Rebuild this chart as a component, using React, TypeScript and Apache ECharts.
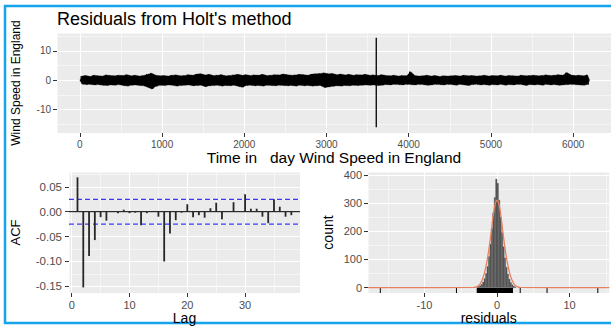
import React, { useEffect, useRef } from "react";
import * as echarts from "echarts";

// ---------- Top panel: residual series (binned envelope, 50-day bins) ----------
const binDays = 50;
const residHi = [
  1.4, 1.6, 1.3, 1.7, 1.5, 1.4, 1.8, 1.6, 1.5, 1.7,
  1.6, 1.9, 1.5, 1.7, 1.4, 1.6, 2.0, 2.4, 1.7, 1.5,
  1.6, 1.4, 1.7, 1.8, 1.5, 1.6, 1.9, 1.7, 2.1, 2.2,
  1.8, 2.0, 1.6, 1.7, 1.9, 1.5, 1.6, 1.8, 2.0, 1.7,
  1.9, 1.6, 1.8, 1.7, 2.0, 1.6, 1.7, 1.9, 1.8, 2.1,
  1.9, 1.7, 1.8, 2.0, 1.9, 1.7, 2.1, 2.2, 2.3, 2.5,
  2.2, 2.3, 1.9, 2.1, 1.8, 2.0, 1.7, 1.9, 1.8, 2.0,
  1.7, 1.8, 1.6, 1.9, 1.6, 1.5, 1.7, 1.4, 1.6, 1.5,
  2.9, 1.6, 1.4, 1.5, 1.7, 1.4, 1.6, 1.3, 1.5, 1.4,
  1.5, 1.6, 1.4, 1.7, 1.5, 1.6, 1.4, 1.5, 1.7, 1.4,
  1.6, 1.5, 1.7, 1.4, 1.6, 1.5, 1.4, 1.7, 1.5, 1.6,
  1.7, 1.5, 1.6, 1.8, 1.6, 1.7, 1.9, 1.7, 2.6, 1.8,
  1.6, 1.7, 1.5, 1.8,
];
const residLo = [
  -1.3, -1.5, -1.4, -1.6, -1.5, -1.7, -1.8, -1.6, -1.7, -1.5,
  -1.8, -2.0, -1.7, -1.6, -1.8, -1.9, -2.4, -3.0, -2.1, -1.7,
  -1.8, -1.6, -1.7, -2.0, -1.8, -1.7, -1.6, -1.9, -1.8, -1.7,
  -2.2, -1.9, -1.8, -1.7, -2.0, -1.8, -1.9, -1.7, -2.1, -2.4,
  -1.8, -1.7, -1.9, -1.8, -2.0, -1.7, -1.8, -1.9, -1.7, -1.8,
  -1.9, -1.8, -2.0, -1.7, -1.9, -1.8, -2.0, -1.9, -1.8, -2.5,
  -2.3, -2.1, -1.9, -2.0, -1.8, -1.9, -1.7, -1.8, -1.7, -1.6,
  -1.7, -1.6, -1.8, -1.7, -1.5, -1.6, -1.4, -1.5, -1.6, -1.4,
  -1.5, -1.6, -1.4, -1.5, -1.7, -1.6, -1.4, -1.5, -1.6, -1.4,
  -1.5, -1.7, -1.4, -1.6, -1.8, -1.5, -1.4, -1.6, -1.5, -1.7,
  -1.5, -1.6, -1.4, -1.7, -1.5, -1.6, -1.4, -1.5, -1.8, -1.5,
  -1.6, -1.5, -1.7, -1.4, -1.6, -1.5, -1.7, -1.6, -1.5, -1.4,
  -1.5, -1.6, -1.7, -1.5,
];
const spikeDay = 3605;
const spikeHi = 14.5;
const spikeLo = -16;
const topXTicks = [0, 1000, 2000, 3000, 4000, 5000, 6000];
const topYTicks = [-10, 0, 10];

// ---------- ACF panel ----------
const acfValues = [
  0.069, -0.152, -0.089, -0.057, -0.011, -0.018, 0.001, -0.003, 0.004, -0.003,
  -0.002, -0.027, -0.003, 0.0, -0.010, -0.100, -0.044, -0.017, -0.002, 0.015,
  -0.011, -0.007, -0.012, 0.007, 0.018, -0.015, 0.0, 0.019, 0.0, 0.035,
  0.006, 0.006, -0.010, -0.023, 0.025, 0.010, -0.010, -0.007,
];
const acfBound = 0.0249;
const acfXTicks = [0, 10, 20, 30];
const acfYTicks = [-0.15, -0.1, -0.05, 0, 0.05];

// ---------- Histogram panel ----------
const histBinWidth = 0.2;
const histCenters = [
  -2.7, -2.5, -2.3, -2.1, -1.9, -1.7, -1.5, -1.3, -1.1, -0.9, -0.7, -0.5, -0.3, -0.1,
  0.1, 0.3, 0.5, 0.7, 0.9, 1.1, 1.3, 1.5, 1.7, 1.9, 2.1, 2.3, 2.5,
];
const histCounts = [
  2, 4, 7, 12, 20, 32, 50, 75, 110, 155, 210, 265, 320, 385,
  370, 310, 250, 195, 145, 105, 72, 48, 30, 18, 10, 5, 2,
];
const normX = [-17.8, -3.2, -2.8, -2.4, -2.0, -1.7, -1.4, -1.1, -0.8, -0.5, -0.25, 0, 0.25, 0.5, 0.8, 1.1, 1.4, 1.7, 2.0, 2.4, 2.8, 3.2, 15.5];
const normY = [0, 1, 3, 11, 31, 56, 92, 140, 199, 262, 297, 310, 297, 262, 199, 140, 92, 56, 31, 11, 3, 1, 0];
const rugPoints = [-16.1, -5.6, 3.2, 6.9, 13.9];
const rugDense = [-2.8, 2.2];
const histXTicks = [-10, 0, 10];
const histYTicks = [0, 100, 200, 300, 400];

const FONT = "'Liberation Sans', Arial, sans-serif";
const PANEL = "#EBEBEB";
const TICKCOL = "#333333";
const LABCOL = "#4D4D4D";

function majorAxis(extra: any) {
  return {
    type: "value",
    axisLine: { show: false, onZero: false },
    axisTick: { show: true, inside: false, length: 4, lineStyle: { color: TICKCOL, width: 1 }, customValues: extra.ticks },
    axisLabel: {
      show: true,
      customValues: extra.ticks,
      color: LABCOL,
      fontFamily: FONT,
      fontSize: extra.fontSize || 10,
      margin: extra.margin || 6,
      formatter: extra.formatter || ((v: number) => String(v)),
    },
    splitLine: { show: true, lineStyle: { color: "#FFFFFF", width: 1.1 } },
    minorTick: { show: false },
    ...extra.axis,
  };
}

function minorAxis(extra: any) {
  return {
    type: "value",
    show: true,
    axisLine: { show: false, onZero: false },
    axisTick: { show: false },
    axisLabel: { show: false },
    splitLine: { show: true, lineStyle: { color: "#FFFFFF", width: 0.5 } },
    ...extra,
  };
}

// horizontal reference line across the whole panel of a grid
function hlineSeries(name: string, axisIdx: number, values: number[], style: any) {
  return {
    type: "custom",
    name,
    xAxisIndex: axisIdx,
    yAxisIndex: axisIdx,
    data: values.map((v) => [0, v]),
    encode: { y: 1 },
    renderItem: (params: any, api: any) => {
      const cs = params.coordSys;
      const y = api.coord([0, api.value(1)])[1];
      return {
        type: "line",
        shape: { x1: cs.x, y1: y, x2: cs.x + cs.width, y2: y },
        style,
      };
    },
  };
}

export default function App() {
  const ref = useRef<HTMLDivElement>(null);
  useEffect(() => {
    document.body.style.margin = "0";
    if (!ref.current) return;
    const chart = echarts.init(ref.current, undefined, { renderer: "svg" });

    // zig-zag through the envelope of each 50-day bin (max early in bin, min late in bin)
    const zigzag: number[][] = [];
    residHi.forEach((h, i) => {
      zigzag.push([i * binDays + 12, h]);
      zigzag.push([i * binDays + 37, residLo[i]]);
    });
    const acfData = acfValues.map((v, i) => [i + 1, v]);
    const histData = histCenters.map((c, i) => [c, histCounts[i]]);
    const normData = normX.map((x, i) => [x, normY[i]]);

    const option: any = {
      animation: false,
      backgroundColor: "#FFFFFF",
      title: {
        text: "Residuals from Holt's method",
        left: 57,
        top: 10,
        padding: 0,
        textStyle: { fontFamily: FONT, fontSize: 18, fontWeight: "normal", color: "#000" },
      },
      graphic: [
        { type: "line", shape: { x1: 5, y1: 5, x2: 5, y2: 324 }, style: { stroke: "#14A4EC", lineWidth: 2.5 } },
        { type: "line", shape: { x1: 4, y1: 6, x2: 611, y2: 6 }, style: { stroke: "#14A4EC", lineWidth: 2.5 } },
        { type: "line", shape: { x1: 4, y1: 323, x2: 611, y2: 323 }, style: { stroke: "#14A4EC", lineWidth: 2.5 } },
      ],
      grid: [
        { left: 57, top: 33, width: 557, height: 100, show: true, backgroundColor: PANEL, borderWidth: 0 },
        { left: 69, top: 172, width: 231, height: 121, show: true, backgroundColor: PANEL, borderWidth: 0 },
        { left: 368, top: 172, width: 241.4, height: 121, show: true, backgroundColor: PANEL, borderWidth: 0 },
      ],
      xAxis: [
        majorAxis({
          ticks: topXTicks,
          fontSize: 10,
          axis: {
            gridIndex: 0, min: -278, max: 6460, minInterval: 1000, maxInterval: 1000,
            name: "Time in   day Wind Speed in England", nameLocation: "middle", nameGap: 15,
            nameTextStyle: { fontFamily: FONT, fontSize: 15.5, color: "#000", verticalAlign: "top" },
          },
        }),
        minorAxis({ gridIndex: 0, min: -278, max: 6460, minInterval: 500, maxInterval: 500, position: "bottom" }),
        majorAxis({
          ticks: acfXTicks,
          fontSize: 11,
          axis: {
            gridIndex: 1, min: -0.47, max: 39.5, minInterval: 10, maxInterval: 10,
            name: "Lag", nameLocation: "middle", nameGap: 17,
            nameTextStyle: { fontFamily: FONT, fontSize: 14, color: "#000", verticalAlign: "top" },
          },
        }),
        minorAxis({ gridIndex: 1, min: -0.47, max: 39.5, minInterval: 5, maxInterval: 5, position: "bottom" }),
        majorAxis({
          ticks: histXTicks,
          fontSize: 11,
          axis: {
            gridIndex: 2, min: -17.8, max: 15.5, minInterval: 10, maxInterval: 10,
            name: "residuals", nameLocation: "middle", nameGap: 17,
            nameTextStyle: { fontFamily: FONT, fontSize: 14, color: "#000", verticalAlign: "top" },
          },
        }),
        minorAxis({ gridIndex: 2, min: -17.8, max: 15.5, minInterval: 5, maxInterval: 5, position: "bottom" }),
      ],
      yAxis: [
        majorAxis({
          ticks: topYTicks,
          fontSize: 10,
          axis: {
            gridIndex: 0, min: -18, max: 16.1, minInterval: 10, maxInterval: 10,
            name: "Wind Speed in England", nameLocation: "middle", nameGap: 35, nameRotate: 90,
            nameTextStyle: { fontFamily: FONT, fontSize: 12, color: "#000" },
          },
        }),
        minorAxis({ gridIndex: 0, min: -18, max: 16.1, minInterval: 5, maxInterval: 5, position: "left" }),
        majorAxis({
          ticks: acfYTicks,
          fontSize: 11.5,
          margin: 7,
          formatter: (v: number) => v.toFixed(2),
          axis: {
            gridIndex: 1, min: -0.1633, max: 0.0797, minInterval: 0.05, maxInterval: 0.05,
            name: "ACF", nameLocation: "middle", nameGap: 47, nameRotate: 90,
            nameTextStyle: { fontFamily: FONT, fontSize: 13, color: "#000" },
          },
        }),
        minorAxis({ gridIndex: 1, min: -0.1633, max: 0.0797, minInterval: 0.025, maxInterval: 0.025, position: "left" }),
        majorAxis({
          ticks: histYTicks,
          fontSize: 11,
          axis: {
            gridIndex: 2, min: -19, max: 410, minInterval: 100, maxInterval: 100,
            name: "count", nameLocation: "middle", nameGap: 33, nameRotate: 90,
            nameTextStyle: { fontFamily: FONT, fontSize: 14, color: "#000" },
          },
        }),
        minorAxis({ gridIndex: 2, min: -19, max: 410, minInterval: 50, maxInterval: 50, position: "left" }),
      ],
      series: [
        {
          type: "custom",
          name: "residual band",
          xAxisIndex: 0,
          yAxisIndex: 0,
          data: [[0, 0]],
          encode: { x: 0, y: 1 },
          renderItem: (params: any, api: any) => {
            const top: number[][] = residHi.map((h, i) => api.coord([i * binDays + binDays / 2, h]));
            const bottom: number[][] = residLo.map((l, i) => api.coord([i * binDays + binDays / 2, l]));
            const first = api.coord([0, 0]);
            const last = api.coord([residHi.length * binDays, 0]);
            const pts = [first, ...top, last, ...bottom.reverse()];
            return {
              type: "polygon",
              shape: { points: pts },
              style: { fill: "#000", stroke: "#000", lineWidth: 0.3 },
            };
          },
        },
        {
          type: "line",
          name: "residuals",
          xAxisIndex: 0,
          yAxisIndex: 0,
          data: zigzag,
          symbol: "none",
          lineStyle: { color: "#000", width: 1.1 },
        },
        {
          type: "line",
          name: "spike",
          xAxisIndex: 0,
          yAxisIndex: 0,
          data: [[spikeDay, spikeLo], [spikeDay, spikeHi]],
          symbol: "none",
          lineStyle: { color: "#000", width: 1.3 },
        },
        hlineSeries("acf zero", 2, [0], { stroke: "#000000", lineWidth: 1 }),
        hlineSeries("acf bounds", 2, [acfBound, -acfBound], { stroke: "#3A3AF5", lineWidth: 1.2, lineDash: [5, 3] }),
        {
          type: "custom",
          name: "acf",
          xAxisIndex: 2,
          yAxisIndex: 2,
          data: acfData,
          encode: { x: 0, y: 1 },
          renderItem: (params: any, api: any) => {
            const p0 = api.coord([api.value(0), 0]);
            const p1 = api.coord([api.value(0), api.value(1)]);
            return {
              type: "line",
              shape: { x1: p0[0], y1: p0[1], x2: p1[0], y2: p1[1] },
              style: { stroke: "#262626", lineWidth: 1.8 },
            };
          },
        },
        {
          type: "custom",
          name: "hist",
          xAxisIndex: 4,
          yAxisIndex: 4,
          data: histData,
          encode: { x: 0, y: 1 },
          renderItem: (params: any, api: any) => {
            const c = api.value(0);
            const p0 = api.coord([c - histBinWidth / 2, api.value(1)]);
            const p1 = api.coord([c + histBinWidth / 2, 0]);
            return {
              type: "rect",
              shape: { x: p0[0], y: p0[1], width: p1[0] - p0[0], height: p1[1] - p0[1] },
              style: { fill: "#555555", stroke: "#555555", lineWidth: 0.3 },
            };
          },
        },
        {
          type: "line",
          name: "normal",
          xAxisIndex: 4,
          yAxisIndex: 4,
          data: normData,
          symbol: "none",
          smooth: 0.35,
          lineStyle: { color: "#E8815F", width: 1.3 },
        },
        {
          type: "custom",
          name: "rug",
          xAxisIndex: 4,
          yAxisIndex: 4,
          data: rugPoints.map((x) => [x]),
          encode: { x: 0 },
          renderItem: (params: any, api: any) => {
            const p = api.coord([api.value(0), -19]);
            return {
              type: "line",
              shape: { x1: p[0], y1: p[1], x2: p[0], y2: p[1] - 5 },
              style: { stroke: "#000", lineWidth: 1 },
            };
          },
        },
        {
          type: "custom",
          name: "rug dense",
          xAxisIndex: 4,
          yAxisIndex: 4,
          data: [[rugDense[0], rugDense[1]]],
          encode: { x: [0, 1] },
          renderItem: (params: any, api: any) => {
            const p0 = api.coord([api.value(0), -19]);
            const p1 = api.coord([api.value(1), -19]);
            return {
              type: "rect",
              shape: { x: p0[0], y: p0[1] - 5, width: p1[0] - p0[0], height: 5 },
              style: { fill: "#000" },
            };
          },
        },
      ],
    };
    chart.setOption(option);
    return () => chart.dispose();
  }, []);
  return <div ref={ref} style={{ position: "absolute", left: 0, top: 0, width: 611, height: 327 }} />;
}
